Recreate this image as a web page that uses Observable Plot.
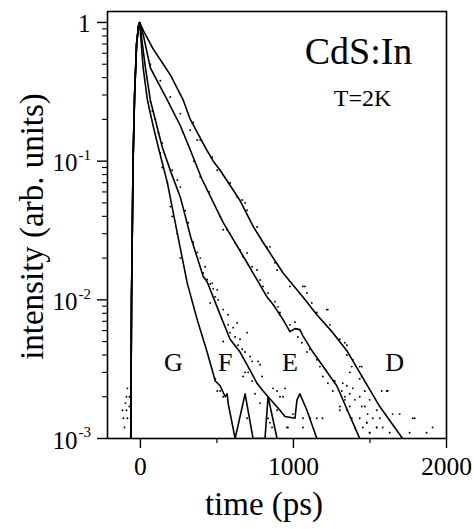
<!DOCTYPE html>
<html><head><meta charset="utf-8">
<script src="https://cdn.jsdelivr.net/npm/d3@7"></script>
<script src="https://cdn.jsdelivr.net/npm/@observablehq/plot@0.6"></script>
<style>body{margin:0;background:#fff;}</style>
</head><body><div id="chart"></div>
<script>
// ---- data (time in ps, intensity in arb. units) ----
const rise = [[-63,0.001],[-58,0.01],[-48,0.1],[-38,0.3],[-25,0.7],[-12,0.95],[-5,1]];
const curveG = [[18,0.47],[46,0.275],[85,0.176],[117,0.126],[176,0.07],[241,0.0303],[306,0.0132],[371,0.0072],[436,0.0042],[489,0.0026],[521,0.0024],[554,0.002],[567,0.0021],[573,0.0018],[619,0.001],[684,0.0021],[736,0.001],[814,0.001],[834,0.002],[893,0.001]];
const curveF = [[33,0.47],[65,0.275],[143,0.126],[200,0.083],[261,0.055],[330,0.028],[410,0.0148],[436,0.0135],[508,0.0085],[534,0.0072],[586,0.0052],[651,0.0042],[717,0.0031],[762,0.0025],[795,0.00225],[834,0.002],[912,0.0016],[945,0.00144],[1010,0.0014],[1023,0.0019],[1042,0.0021],[1088,0.0016],[1153,0.001]];
const curveE = [[20,0.8],[65,0.47],[176,0.275],[261,0.18],[319,0.126],[400,0.075],[541,0.036],[697,0.0185],[827,0.0105],[866,0.0093],[932,0.0072],[977,0.0059],[1010,0.0062],[1042,0.0061],[1062,0.0055],[1127,0.0042],[1283,0.0024],[1433,0.001]];
const curveD = [[20,0.87],[85,0.64],[150,0.5],[200,0.41],[280,0.275],[326,0.2],[423,0.126],[476,0.1],[521,0.086],[651,0.052],[736,0.034],[801,0.026],[932,0.0156],[1062,0.0105],[1153,0.0078],[1257,0.0058],[1349,0.0043],[1564,0.0017],[1713,0.001]];

const dotsPre = [[-85,0.0023],[-91,0.002],[-72,0.002],[-98,0.0018],[-72,0.0017],[-91,0.0016],[-117,0.0016],[-85,0.0014],[-111,0.0014],[-104,0.0012]];
const dotsG = [[65,0.27],[78,0.23],[98,0.2],[117,0.16],[143,0.135],[130,0.114],[143,0.09],[176,0.07],[195,0.047],[208,0.04],[241,0.03],[261,0.02],[489,0.0027],[502,0.0022],[521,0.0022],[541,0.002]];
const dotsF = [[208,0.086],[241,0.073],[261,0.065],[293,0.044],[313,0.036],[345,0.026],[371,0.022],[391,0.02],[410,0.0156],[436,0.014],[456,0.013],[476,0.012],[489,0.0105],[456,0.0095],[423,0.0173],[469,0.0132],[502,0.0118],[508,0.01],[541,0.0085],[573,0.0078],
  [573,0.0066],[606,0.0063],[632,0.0068],[586,0.0058],[619,0.0054],[651,0.0052],[697,0.0058],[541,0.005],[638,0.0047],[665,0.0044],[684,0.0042],[717,0.0039],[730,0.0036],[769,0.0036],[782,0.0034],[684,0.003],[704,0.003],[671,0.0028],[730,0.0026],[795,0.0028],[749,0.0021],[782,0.0018],[866,0.0023],[893,0.0022],[912,0.002],[834,0.0014],[847,0.0013],[860,0.0012],[697,0.0014],[958,0.0012],[893,0.0016],
  [945,0.0023],[932,0.002],[997,0.0015],[1062,0.0014],[1153,0.0014],[964,0.0012],[1062,0.0012],[1110,0.0014],[1190,0.0014]];
const dotsE = [[280,0.16],[350,0.1],[391,0.077],[450,0.06],[521,0.04],[541,0.032],[567,0.032],[586,0.03],[619,0.0257],[651,0.0229],[671,0.0204],[697,0.0218],[730,0.0173],[762,0.0164],[782,0.0139],[801,0.0125],[834,0.0112],[879,0.0097],[899,0.0089],[912,0.0081],
  [912,0.0078],[977,0.0066],[1010,0.0069],[1029,0.0054],[1055,0.0049],[1088,0.0042],[1107,0.0044],[1153,0.0037],[1173,0.0033],[1192,0.0028],[1225,0.0025],[1270,0.0026],[1257,0.0022],[1316,0.0022],[1336,0.0019],[1303,0.0017],[1349,0.0016],[1381,0.0014],[1401,0.0012],[1453,0.0012],[1433,0.0014],[1368,0.0021],[1498,0.0011],[1479,0.0013],[1544,0.0012]];
const dotsD = [[65,0.5],[130,0.38],[195,0.29],[261,0.22],[326,0.167],[371,0.142],[345,0.19],[391,0.142],[502,0.086],
  [469,0.107],[521,0.086],[586,0.0695],[665,0.0524],[697,0.0443],[762,0.0335],[847,0.0241],[879,0.0185],[893,0.0164],[977,0.0125],[1075,0.0125],[1088,0.0112],[1120,0.0095],[1153,0.0081],[1218,0.0085],[632,0.055],[684,0.05],[827,0.024],[1062,0.0125],[1225,0.0085],
  [1238,0.0066],[1303,0.0052],[1349,0.004],[1381,0.0033],[1433,0.0027],[1466,0.0022],[1498,0.0019],[1446,0.0017],[1544,0.0016],
  [1336,0.0049],[1349,0.0047],[1388,0.0037],[1433,0.0033],[1368,0.003],[1322,0.0025],[1349,0.0024],[1388,0.0023],[1336,0.002],[1401,0.0019],[1433,0.002],[1466,0.0017],[1368,0.0017],[1485,0.0015],[1518,0.0014],[1564,0.0014],[1479,0.0013],[1544,0.0012],[1583,0.0012],[1498,0.0011],[1629,0.0011],[1648,0.0015],[1694,0.0015],[1577,0.0022],[1616,0.0022],[1792,0.0014],[1759,0.0011],[1909,0.0012],[1870,0.0011],[1446,0.0033],[1446,0.0028],[1303,0.0016],[1609,0.0022],[1780,0.0014]];

const curveNames = ["G","F","E","D"];
const curveLabelTimes = [215, 554, 977, 1661];
const curveLabelLevel = 0.0035;

const xMajorTicks = [0, 1000, 2000];
const xMajorLabels = ["0", "1000", "2000"];
const xMinorTicks = [500, 1500];
const yMajorTicks = [1, 0.1, 0.01, 0.001];
const yTickBases = ["1", "10", "10", "10"];
const yTickExps = ["", "-1", "-2", "-3"];
const yMinorTicks = [2,3,4,5,6,7,8,9].flatMap(m => [0.001, 0.01, 0.1].map(d => m * d));

const title = "CdS:In";
const subtitle = "T=2K";
const xLabel = "time (ps)";
const yLabel = "intensity (arb. units)";

// ---- build tables ----
const curves = [curveG, curveF, curveE, curveD];
const lineData = curves.flatMap((pts, i) => rise.concat(pts).map(([t, v]) => ({curve: curveNames[i], t, v})));
const dotData = [dotsPre, dotsG, dotsF, dotsE, dotsD].flat().map(([t, v]) => ({t, v}));
const yTicks = yMajorTicks.map((v, i) => ({v, base: yTickBases[i], exp: yTickExps[i]}));
const labels = curveNames.map((n, i) => ({n, t: curveLabelTimes[i], v: curveLabelLevel}));

const font = "'Liberation Serif', 'Times New Roman', serif";

const chart = Plot.plot({
  width: 474,
  height: 529,
  marginLeft: 107,
  marginRight: 28,
  marginTop: 11,
  marginBottom: 91,
  style: {fontFamily: font, background: "#fff", color: "#000", fontSize: "24px"},
  x: {domain: [-215, 2000]},
  y: {type: "log", domain: [0.001, 1.2]},
  marks: [
    Plot.dot(dotData, {x: "t", y: "v", r: 0.95, fill: "#000", stroke: "none", clip: true}),
    Plot.line(lineData, {x: "t", y: "v", z: "curve", stroke: "#000", strokeWidth: 1.6, clip: true}),
    Plot.frame({stroke: "#000", strokeWidth: 1.6}),
    Plot.axisX({ticks: xMajorTicks, tickSize: 10, tickPadding: 8, fontSize: 25.5, strokeWidth: 1.4,
      tickFormat: d => xMajorLabels[xMajorTicks.indexOf(d)], label: null}),
    Plot.axisX({ticks: xMinorTicks, tickSize: 5, strokeWidth: 1.2, tickFormat: () => "", label: null}),
    Plot.axisY({ticks: yMajorTicks, tickSize: 10, strokeWidth: 1.4, tickFormat: () => "", label: null}),
    Plot.axisY({ticks: yMinorTicks, tickSize: 5, strokeWidth: 1.1, tickFormat: () => "", label: null}),
    Plot.text(yTicks.filter(d => d.exp === ""), {y: "v", text: "base", frameAnchor: "left", textAnchor: "end", dx: -17, dy: 2, fontSize: 25}),
    Plot.text(yTicks.filter(d => d.exp !== ""), {y: "v", text: "base", frameAnchor: "left", textAnchor: "end", dx: -30, dy: 2, fontSize: 25}),
    Plot.text(yTicks.filter(d => d.exp !== ""), {y: "v", text: "exp", frameAnchor: "left", textAnchor: "start", dx: -29, dy: -6, fontSize: 15}),
    Plot.text(labels, {x: "t", y: "v", text: "n", fontSize: 26}),
    Plot.text([title], {text: d => d, frameAnchor: "top-right", textAnchor: "middle", lineAnchor: "bottom", dx: -88, dy: 52, fontSize: 38}),
    Plot.text([subtitle], {text: d => d, frameAnchor: "top-right", textAnchor: "middle", lineAnchor: "bottom", dx: -84, dy: 94, fontSize: 24}),
    Plot.text([xLabel], {text: d => d, frameAnchor: "bottom", textAnchor: "middle", lineAnchor: "bottom", dx: -13, dy: 76, fontSize: 33}),
    Plot.text([yLabel], {text: d => d, frameAnchor: "left", textAnchor: "middle", rotate: -90, lineAnchor: "bottom", dx: -65, dy: 1.5, fontSize: 33})
  ]
});
document.getElementById("chart").appendChild(chart);
</script>
</body></html>
